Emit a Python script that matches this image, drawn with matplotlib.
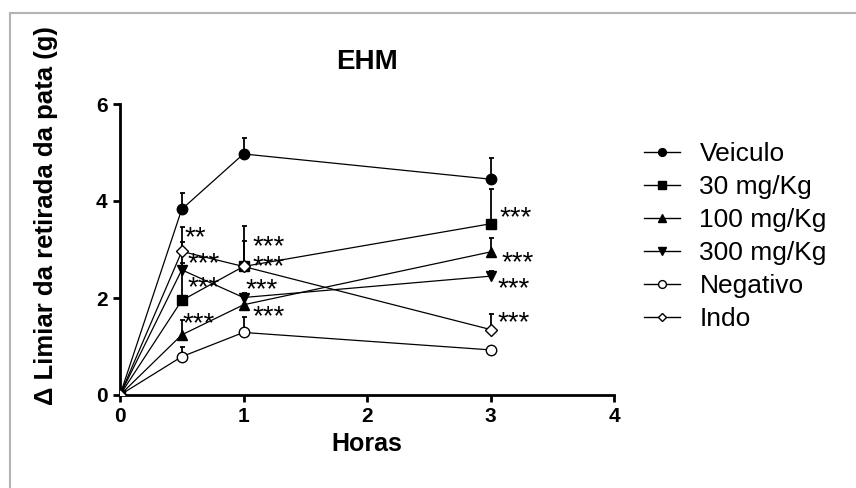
import matplotlib
matplotlib.use("Agg")
import matplotlib.pyplot as plt
from matplotlib.lines import Line2D
import numpy as np

plt.rcParams['font.family'] = ['Liberation Sans', 'DejaVu Sans']

hours = [0, 0.5, 1, 3]
series_names = ["Veiculo", "30 mg/Kg", "100 mg/Kg", "300 mg/Kg", "Negativo", "Indo"]
veiculo = [0, 3.83, 4.97, 4.45]
veiculo_err = [0, 0.34, 0.33, 0.44]
mg30 = [0, 1.95, 2.65, 3.53]
mg30_err = [0, 1.20, 0.83, 0.71]
mg100 = [0, 1.24, 1.86, 2.95]
mg100_err = [0, 0.31, 0.12, 0.29]
mg300 = [0, 2.58, 2.01, 2.45]
mg300_err = [0, 0.15, 0.10, 0.10]
negativo = [0, 0.79, 1.29, 0.93]
negativo_err = [0, 0.21, 0.31, 0.0]
indo = [0, 2.96, 2.65, 1.35]
indo_err = [0, 0.50, 0.52, 0.33]

# significance labels: (x, y, text)
sig_x = [0.52, 0.55, 0.55, 0.51, 1.07, 1.07, 1.02, 1.07, 3.07, 3.09, 3.06, 3.06]
sig_y = [3.24, 2.70, 2.21, 1.45, 3.04, 2.64, 2.17, 1.61, 3.64, 2.72, 2.18, 1.48]
sig_txt = ["**", "***", "***", "***", "***", "***", "***", "***", "***", "***", "***", "***"]

W, H = 856, 488
fig = plt.figure(figsize=(W / 100, H / 100), dpi=100)
ax = fig.add_axes([120 / W, 1 - 395 / H, (614 - 120) / W, (395 - 104) / H])

styles = [
    dict(marker='o', mfc='black', ms=7.5),
    dict(marker='s', mfc='black', ms=7),
    dict(marker='^', mfc='black', ms=7.5),
    dict(marker='v', mfc='black', ms=7.5),
    dict(marker='o', mfc='white', ms=7.5),
    dict(marker='D', mfc='white', ms=6),
]
data = [veiculo, mg30, mg100, mg300, negativo, indo]
errs = [veiculo_err, mg30_err, mg100_err, mg300_err, negativo_err, indo_err]

handles = []
for name, y, e, st in zip(series_names, data, errs, styles):
    y = np.array(y)
    e = np.array(e)
    ax.errorbar(hours, y, yerr=[np.zeros_like(e), e], fmt='none', ecolor='black',
                elinewidth=1.3, capsize=1.8, capthick=1.3, zorder=2)
    ax.plot(hours, y, color='black', lw=0.9, marker=st['marker'], mfc=st['mfc'],
            mec='black', mew=1.0, ms=st['ms'], zorder=3)
    handles.append(Line2D([], [], color='black', lw=1.0, marker=st['marker'],
                          mfc=st['mfc'], mec='black', mew=1.0, ms=st['ms'] * 0.75,
                          label=name))

for x, y, t in zip(sig_x, sig_y, sig_txt):
    ax.text(x, y, t, fontsize=20, va='center', ha='left', color='black', zorder=4)

ax.set_xlim(0, 4)
ax.set_ylim(0, 6)
ax.set_xticks([0, 1, 2, 3, 4])
ax.set_yticks([0, 2, 4, 6])
for s in ['top', 'right']:
    ax.spines[s].set_visible(False)
for s in ['left', 'bottom']:
    ax.spines[s].set_linewidth(2.0)
ax.tick_params(direction='out', length=5, width=2.0, labelsize=15, pad=4)
for lab in ax.get_xticklabels() + ax.get_yticklabels():
    lab.set_fontweight('bold')
ax.set_clip_on(False)

ax.set_xlabel("Horas", fontsize=18, fontweight='bold', labelpad=4)
ax.set_title("EHM", fontsize=20, fontweight='bold', pad=25)
fig.text(46 / W, 1 - 216 / H, "Δ Limiar da retirada da pata (g)", rotation=90,
         fontsize=18.5, fontweight='bold', ha='center', va='center')

fig.legend(handles=handles, loc='upper left', bbox_to_anchor=(644 / W, 1 - 142 / H),
           frameon=False, fontsize=19, handlelength=1.35, handletextpad=0.75,
           labelspacing=0.34, borderpad=0, borderaxespad=0)

# outer gray frame (top and left edges)
fig.add_artist(Line2D([10 / W, 1], [1 - 12.5 / H, 1 - 12.5 / H], color='#b4b4b4', lw=1.5))
fig.add_artist(Line2D([10 / W, 10 / W], [0, 1 - 12.5 / H], color='#b4b4b4', lw=1.5))

fig.savefig("out.png", dpi=100)
